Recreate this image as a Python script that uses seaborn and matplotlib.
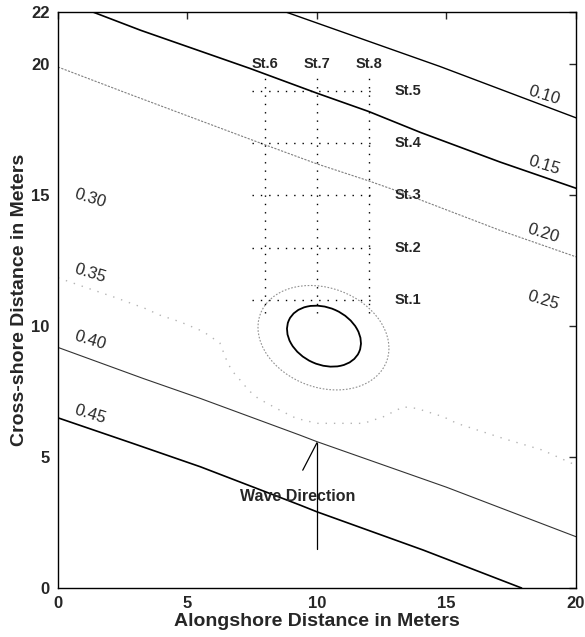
import matplotlib
matplotlib.use("Agg")
import matplotlib.pyplot as plt
from matplotlib.patches import Ellipse
import seaborn as sns
import pandas as pd

sns.set_style("white")
plt.rcParams["font.family"] = ["Liberation Sans", "DejaVu Sans"]

# ---- contour lines (x = alongshore m, y = cross-shore m)
c010_x = [8.8, 14.75, 20.0]
c010_y = [22.0, 19.92, 17.96]
c015_x = [1.35, 3.2, 7.4, 10.0, 12.0, 14.0, 17.07, 20.0]
c015_y = [22.0, 21.3, 19.85, 18.9, 18.2, 17.4, 16.27, 15.27]
c020_x = [0.0, 2.66, 5.5, 7.8, 10.0, 12.0, 13.0, 17.07, 20.0]
c020_y = [19.9, 18.9, 17.85, 17.0, 16.2, 15.55, 15.2, 13.66, 12.65]
c035_x = [0.0, 1.16, 2.2, 3.36, 3.94, 4.71, 5.6, 6.25, 6.51, 6.7, 7.15, 7.35,
          7.73, 8.57, 9.2, 10.0, 11.8, 12.56, 13.33, 13.85, 14.88, 15.4, 17.2,
          18.7, 20.0]
c035_y = [11.85, 11.45, 11.1, 10.68, 10.42, 10.17, 9.8, 9.36, 8.70, 8.32, 7.81,
          7.56, 7.24, 6.79, 6.48, 6.29, 6.29, 6.54, 6.92, 6.86, 6.54, 6.29, 5.71,
          5.27, 4.69]
c040_x = [0.0, 3.3, 5.5, 9.34, 10.0, 15.0, 20.0]
c040_y = [9.19, 8.0, 7.24, 5.84, 5.59, 3.85, 1.96]
c045_x = [0.0, 2.9, 5.5, 9.34, 10.0, 14.1, 17.9]
c045_y = [6.5, 5.52, 4.63, 3.17, 2.91, 1.45, 0.0]

# closed contours around the focus: centre x, centre y, width, height, angle
ell_outer = [10.25, 9.56, 5.2, 3.8, -20]
ell_inner = [10.27, 9.62, 2.97, 2.18, -24]

# contour labels
lab_text = ["0.10", "0.15", "0.20", "0.25", "0.30", "0.35", "0.40", "0.45"]
lab_x = [18.75, 18.75, 18.75, 18.75, 1.25, 1.25, 1.25, 1.25]
lab_y = [18.8, 16.15, 13.55, 11.0, 14.9, 12.0, 9.47, 6.64]

# stations
st_cols_x = [8, 10, 12]
st_cols_name = ["St.6", "St.7", "St.8"]
st_rows_y = [19, 17, 15, 13, 11]
st_rows_name = ["St.5", "St.4", "St.3", "St.2", "St.1"]
st_col_extent = [10.5, 19.5]
st_row_extent = [7.5, 12.3]

# wave direction arrow
arrow_x = [10.0, 10.0]
arrow_y = [1.5, 5.55]
barb_x = [10.0, 9.45]
barb_y = [5.55, 4.5]

fig = plt.figure(figsize=(5.85, 6.37), dpi=100)
ax = fig.add_axes([0.0991, 0.0769, 0.8855, 0.9042])


def line(xs, ys, **kw):
    df = pd.DataFrame({"x": xs, "y": ys})
    sns.lineplot(data=df, x="x", y="y", sort=False, estimator=None, ax=ax, **kw)


line(c010_x, c010_y, color="black", lw=1.0)
line(c015_x, c015_y, color="black", lw=1.2)
line(c020_x, c020_y, color="#808080", lw=0.8, linestyle=(0, (2, 1.2)))
line(c035_x, c035_y, color="#b4b4b4", lw=1.0, linestyle=(0, (1, 5)))
line(c040_x, c040_y, color="#333333", lw=0.8)
line(c045_x, c045_y, color="black", lw=1.2)

for (cx, cy, w, h, a), kw in [
    (ell_outer, dict(edgecolor="#909090", lw=0.8, linestyle=(0, (1.5, 1.5)))),
    (ell_inner, dict(edgecolor="black", lw=1.3)),
]:
    ax.add_patch(Ellipse((cx, cy), w, h, angle=a, facecolor="none", **kw))

for t, x, y in zip(lab_text, lab_x, lab_y):
    ax.text(x, y, t, fontsize=12, rotation=-17, ha="center", va="center",
            rotation_mode="anchor")

# station grid
for x in st_cols_x:
    line([x, x], st_col_extent, color="black", lw=1.0, linestyle=(0, (1, 5)))
for y in st_rows_y:
    line(st_row_extent, [y, y], color="black", lw=1.0, linestyle=(0, (1, 5)))
for x, n in zip(st_cols_x, st_cols_name):
    ax.text(x, 20.0, n, fontsize=10.5, fontweight="bold", ha="center", va="center")
for y, n in zip(st_rows_y, st_rows_name):
    ax.text(13.0, y, n, fontsize=10.5, fontweight="bold", ha="left", va="center")

line(arrow_x, arrow_y, color="black", lw=0.9)
line(barb_x, barb_y, color="black", lw=0.9)
ax.text(9.25, 3.5, "Wave Direction", fontsize=11.5, fontweight="bold",
        ha="center", va="center")

ax.set_xlim(0, 20)
ax.set_ylim(0, 22)
ax.set_xticks([0, 5, 10, 15, 20])
ax.set_yticks([0, 5, 10, 15, 20, 22])
ax.set_xticklabels(["0", "5", "10", "15", "20"])
ax.set_yticklabels(["0", "5", "10", "15", "20", "22"])
ax.tick_params(direction="in", length=5, width=1, top=True, right=True,
               labelsize=12, pad=6)
for lbl in ax.get_xticklabels() + ax.get_yticklabels():
    lbl.set_fontweight("bold")
for s in ax.spines.values():
    s.set_visible(True)
    s.set_color("black")
    s.set_linewidth(1.0)
ax.set_xlabel("Alongshore Distance in Meters", fontsize=14, fontweight="bold",
              labelpad=1)
ax.set_ylabel("Cross-shore Distance in Meters", fontsize=14, fontweight="bold",
              labelpad=2)

fig.savefig("out.png", dpi=100)
